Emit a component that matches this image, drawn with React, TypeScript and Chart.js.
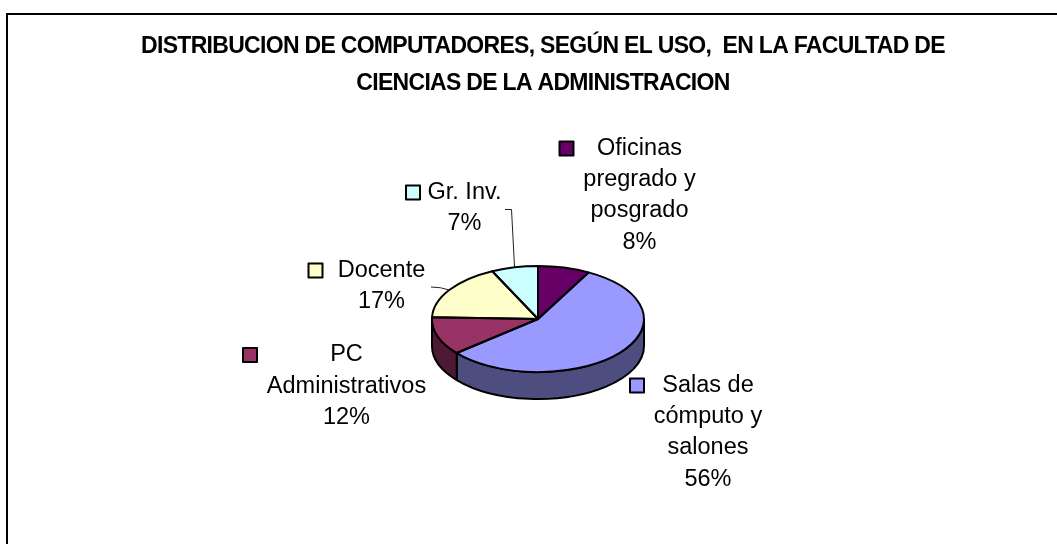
import React, { useEffect, useRef } from "react";
import { Chart, registerables } from "chart.js";

Chart.register(...registerables);

const categories = ["Oficinas pregrado y posgrado", "Salas de cómputo y salones", "PC Administrativos", "Docente", "Gr. Inv."];
const values = [7.9, 56, 11.6, 17.4, 7.1];
const colors = ["#660066", "#9999FF", "#993366", "#FFFFCC", "#CCFFFF"];
const wallColors = ["#330033", "#4D4D80", "#4D1933", "#808066", "#668080"];
const labelLines = [
  ["Oficinas", "pregrado y", "posgrado"],
  ["Salas de", "cómputo y", "salones"],
  ["PC", "Administrativos"],
  ["Docente"],
  ["Gr. Inv."],
];
// text-centre x, first-line y, legend key x (centre) for every label
const labelPlaces = [
  { x: 639.5, y: 148.5, keyX: 566.5 },
  { x: 708, y: 385.5, keyX: 637 },
  { x: 346.5, y: 355, keyX: 250 },
  { x: 381.5, y: 270.5, keyX: 315.5 },
  { x: 464.5, y: 192.5, keyX: 413 },
];
const TITLE = ["DISTRIBUCION DE COMPUTADORES, SEGÚN EL USO,  EN LA FACULTAD DE", "CIENCIAS DE LA ADMINISTRACION"];
const FONT = '"Liberation Sans", Arial, sans-serif';
const SQUASH = 0.5;
const DEPTH = 27;
const RADIUS = 106;
const LINE = 31.2;
const KEY = 14;

const pie3d = {
  id: "pie3d",
  afterLayout(chart: any) {
    // the title sits a little right of the pie's centre
    chart.titleBlock.right += 10;
  },
  beforeDraw(chart: any) {
    chart.ctx.letterSpacing = "-0.7px";
  },
  beforeDatasetsDraw(chart: any) {
    const { ctx } = chart;
    ctx.letterSpacing = "0px";
    const arcs = chart.getDatasetMeta(0).data;
    ctx.save();
    ctx.lineWidth = 2;
    ctx.strokeStyle = "#000";
    ctx.lineJoin = "round";
    arcs.forEach((a: any, i: number) => {
      const from = Math.max(a.startAngle, 0);
      const to = Math.min(a.endAngle, Math.PI);
      if (to <= from) return;
      const rx = a.outerRadius, ry = rx * SQUASH;
      ctx.beginPath();
      ctx.ellipse(a.x, a.y, rx, ry, 0, from, to);
      ctx.lineTo(a.x + rx * Math.cos(to), a.y + ry * Math.sin(to) + DEPTH);
      ctx.ellipse(a.x, a.y + DEPTH, rx, ry, 0, to, from, true);
      ctx.closePath();
      ctx.fillStyle = wallColors[i];
      ctx.fill();
      ctx.stroke();
    });
    ctx.restore();
    ctx.save();
    const c = arcs[0];
    ctx.translate(c.x, c.y);
    ctx.scale(1, SQUASH);
    ctx.translate(-c.x, -c.y);
  },
  afterDatasetsDraw(chart: any) {
    const { ctx } = chart;
    ctx.restore();
    const arcs = chart.getDatasetMeta(0).data;
    ctx.save();
    ctx.lineWidth = 2;
    ctx.strokeStyle = "#000";
    ctx.lineJoin = "round";
    arcs.forEach((a: any) => {
      ctx.beginPath();
      ctx.moveTo(a.x, a.y);
      ctx.ellipse(a.x, a.y, a.outerRadius, a.outerRadius * SQUASH, 0, a.startAngle, a.endAngle);
      ctx.closePath();
      ctx.stroke();
    });
    // leader lines
    const rim = (a: any) => {
      const m = (a.startAngle + a.endAngle) / 2;
      return [a.x + a.outerRadius * Math.cos(m), a.y + a.outerRadius * SQUASH * Math.sin(m)];
    };
    ctx.lineWidth = 1;
    ctx.strokeStyle = "#222";
    const gr = rim(arcs[4]);
    ctx.beginPath();
    ctx.moveTo(505, 209.5);
    ctx.lineTo(511.5, 209.5);
    ctx.lineTo(gr[0], gr[1]);
    ctx.stroke();
    const doc = rim(arcs[3]);
    ctx.beginPath();
    ctx.moveTo(431, 287);
    ctx.quadraticCurveTo(441, 287, doc[0], doc[1]);
    ctx.stroke();
    // labels
    ctx.fillStyle = "#000";
    ctx.font = `23.5px ${FONT}`;
    ctx.letterSpacing = "0px";
    ctx.textAlign = "center";
    ctx.textBaseline = "middle";
    labelLines.forEach((lines, i) => {
      const p = labelPlaces[i];
      const all = [...lines, `${Math.round(values[i])}%`];
      all.forEach((t, k) => ctx.fillText(t, p.x, p.y + k * LINE));
      ctx.lineWidth = 2;
      ctx.strokeStyle = "#000";
      ctx.fillStyle = colors[i];
      ctx.fillRect(p.keyX - KEY / 2, p.y - KEY / 2, KEY, KEY);
      ctx.strokeRect(p.keyX - KEY / 2, p.y - KEY / 2, KEY, KEY);
      ctx.fillStyle = "#000";
    });
    ctx.restore();
  },
};

export default function App() {
  const ref = useRef<HTMLCanvasElement>(null);
  useEffect(() => {
    document.body.style.margin = "0";
    const chart = new Chart(ref.current!, {
      type: "pie",
      data: {
        labels: categories,
        datasets: [{ data: values, backgroundColor: colors, borderWidth: 0, radius: RADIUS }],
      },
      options: {
        responsive: false,
        animation: false,
        layout: { padding: { left: 19, right: 0, top: 0, bottom: 19 } },
        plugins: {
          legend: { display: false },
          tooltip: { enabled: false },
          title: {
            display: true,
            text: TITLE,
            color: "#000",
            font: { family: FONT, size: 23, weight: "bold", lineHeight: 37 / 23 },
            padding: { top: 28, bottom: 11 },
          },
        },
      },
      plugins: [pie3d],
    } as any);
    return () => chart.destroy();
  }, []);
  return (
    <div style={{ position: "relative", width: 1057, height: 544, overflow: "hidden", background: "#fff" }}>
      <div style={{ position: "absolute", left: 6, top: 13, width: 1100, height: 600, border: "2px solid #000", boxSizing: "content-box" }} />
      <canvas ref={ref} width={1057} height={544} style={{ position: "absolute", left: 0, top: 0, display: "block" }} />
    </div>
  );
}
